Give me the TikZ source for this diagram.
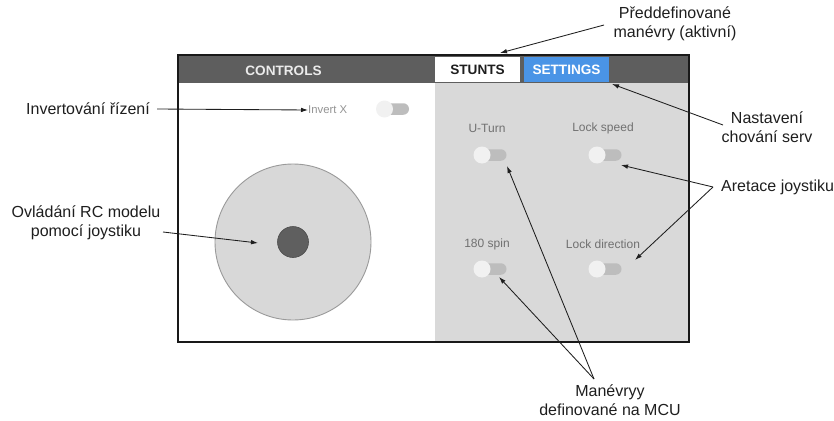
\documentclass[tikz,border=0pt]{standalone}
\usepackage{fontspec}
\setmainfont{Liberation Sans}
\usetikzlibrary{arrows.meta}

\definecolor{headbar}{HTML}{5E5E5E}
\definecolor{panelgray}{HTML}{D9D9D9}
\definecolor{tabblue}{HTML}{4A94E6}
\definecolor{trackgray}{HTML}{BDBDBD}
\definecolor{knobwhite}{HTML}{F1F1F1}
\definecolor{uitext}{HTML}{707070}
\definecolor{labeltext}{HTML}{1E1E1E}
\definecolor{padfill}{HTML}{D8D8D8}
\definecolor{padline}{HTML}{9A9A9A}
\definecolor{stickfill}{HTML}{5F5F5F}

\tikzset{
  note/.style={font=\fontsize{16}{19.5}\selectfont, text=labeltext, align=center, inner sep=0pt},
  tabtext/.style={font=\bfseries\fontsize{13.6}{16}\selectfont, inner sep=0pt},
  uilabel/.style={font=\fontsize{12}{14}\selectfont, text=uitext, inner sep=0pt},
  track/.style={fill=trackgray, rounded corners=5.7pt, minimum width=26pt, minimum height=11.5pt, inner sep=0pt, draw=none},
  knob/.style={circle, fill=knobwhite, minimum size=17pt, inner sep=0pt, draw=none},
  callout/.style={draw=labeltext, line width=0.85pt, -{Latex[length=7pt,width=4.6pt]}},
}

% a switch: knob centred at (#2,#3), track running to the right
\newcommand\switchat[3]{%
  \node[track] (#1track) at (#2+11.5,#3) {};
  \node[knob]  (#1knob)  at (#2,#3) {};
}

\begin{document}
\begin{tikzpicture}[x=1pt,y=-1pt]
\useasboundingbox (0,0) rectangle (834,420);

% application window
\fill[white]     (178,55) rectangle (689,342);
\fill[panelgray] (435,83) rectangle (689,342);
\fill[headbar]   (178,55) rectangle (689,83);

% tabs
\node[fill=white, minimum width=85pt, minimum height=25pt, inner sep=0pt] (stunts) at (477.5,69.5) {};
\node[fill=tabblue, minimum width=85pt, minimum height=25pt, inner sep=0pt] (settings) at (566.5,69.5) {};
\node[tabtext, text=white!92!black] (controls) at (283.5,70.5) {CONTROLS};
\node[tabtext, text=labeltext] at (stunts) {STUNTS};
\node[tabtext, text=white] at (settings) {SETTINGS};

% left panel: invert switch and joystick
\node[font=\fontsize{11.3}{13}\selectfont, text=uitext!75!white, inner sep=0pt, anchor=west] (invx) at (308,110) {Invert X};
\switchat{inv}{384.5}{109}
\node[circle, fill=padfill, draw=padline, line width=0.9pt, minimum size=156pt, inner sep=0pt] (pad) at (293,242) {};
\node[circle, fill=stickfill, draw=black!70, line width=0.6pt, minimum size=31pt, inner sep=0pt] (stick) at (293,242) {};

% right panel: manoeuvre switches
\node[uilabel] (uturnl) at (487,128) {U-Turn};
\node[uilabel] (lockspl) at (603,128) {Lock speed};
\node[uilabel] (spinl) at (487,244) {180 spin};
\node[uilabel] (lockdirl) at (603,244) {Lock direction};
\switchat{ut}{482}{155}
\switchat{ls}{597}{155}
\switchat{sp}{482}{269}
\switchat{ld}{597}{269}

% window frame
\draw[black!90, line width=2pt] (178,55) rectangle (689,342);

% annotations
\node[note, anchor=east] (invnote) at (150,109) {Invertování řízení};
\node[note] (joynote) at (86,223) {Ovládání RC modelu\\pomocí joystiku};
\node[note] (prenote) at (675,24) {Předdefinované\\manévry (aktivní)};
\node[note] (setnote) at (767,127) {Nastavení\\chování serv};
\node[note, anchor=west] (aretnote) at (721,187) {Aretace joystiku};
\node[note] (mcunote) at (610,400) {Manévryy\\definované na MCU};

\coordinate (invA) at (157,109);
\coordinate (joyA) at (163,232);
\coordinate (joyTip) at (258,243);
\coordinate (preA) at (604,25);
\coordinate (stuntsTip) at (500,53);
\coordinate (setA) at (723,125);
\coordinate (setTip) at (612,84);
\coordinate (aretA) at (713,187);
\coordinate (lsTip) at (621,165);
\coordinate (ldTip) at (635,260);
\coordinate (mcuA) at (594,379);
\coordinate (utTip) at (507,166);
\coordinate (spTip) at (499,277);

\draw[callout] (invA) -- (invx.west);
\draw[callout] (joyA) -- (joyTip);
\draw[callout] (preA) -- (stuntsTip);
\draw[callout] (setA) -- (setTip);
\draw[callout] (aretA) -- (lsTip);
\draw[callout] (aretA) -- (ldTip);
\draw[callout] (mcuA) -- (utTip);
\draw[callout] (mcuA) -- (spTip);
\end{tikzpicture}
\end{document}
